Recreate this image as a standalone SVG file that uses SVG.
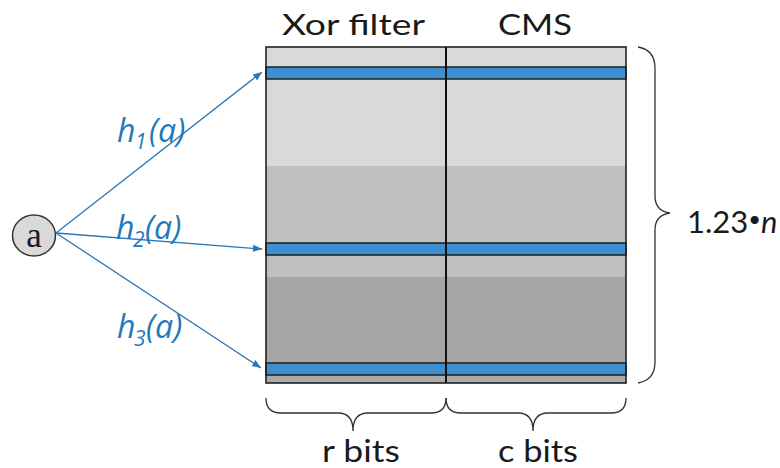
<svg xmlns="http://www.w3.org/2000/svg" width="780" height="468" viewBox="0 0 780 468">
<style>
.lbl{font-family:"Open Sans","DejaVu Sans",sans-serif;font-style:italic;fill:#1f79bd;font-size:32px}
.sub{font-size:21px}
.hdr{font-family:"Lato","Open Sans","Liberation Sans",sans-serif;fill:#1a1a1a;font-size:28px}
.dim{font-family:"Lato","Open Sans","Liberation Sans",sans-serif;fill:#1a1a1a;font-size:31px}
.edge{stroke:#2a76b6;stroke-width:1.3;fill:none}
.band{fill:#3d8fd1;stroke:#1c1c1c;stroke-width:1.5}
.brace{fill:none;stroke:#333;stroke-width:1.3}
</style>
<defs>
<marker id="ah" viewBox="0 0 10 10" refX="10" refY="5" markerWidth="9" markerHeight="9" markerUnits="userSpaceOnUse" orient="auto">
<path d="M0,1 L10,5 L0,9 Z" fill="#2a76b6"/>
</marker>
</defs>
<rect width="780" height="468" fill="#ffffff"/>

<g id="table">
<rect x="266" y="47" width="360" height="119" fill="#d9d9d9"/>
<rect x="266" y="166" width="360" height="111" fill="#bfbfbf"/>
<rect x="266" y="277" width="360" height="106" fill="#a6a6a6"/>
<rect x="266" y="375" width="360" height="8" fill="#ababab"/>
<rect class="band" x="266" y="67" width="360" height="12"/>
<rect class="band" x="266" y="243" width="360" height="12"/>
<rect class="band" x="266" y="363" width="360" height="12"/>
<rect x="266" y="47" width="360" height="336" fill="none" stroke="#222" stroke-width="1.6"/>
<line x1="446" y1="47" x2="446" y2="383" stroke="#111" stroke-width="2"/>
</g>

<g id="headers">
<text class="hdr" x="282" y="35" textLength="143" lengthAdjust="spacingAndGlyphs">Xor filter</text>
<text class="hdr" x="498" y="35" textLength="74" lengthAdjust="spacingAndGlyphs">CMS</text>
</g>

<g id="node-a">
<ellipse cx="34" cy="235.5" rx="21.5" ry="20.5" fill="#d9d9d9" stroke="#333" stroke-width="1.5"/>
<text x="34" y="246.5" text-anchor="middle" font-family="Liberation Serif,serif" font-size="35" fill="#1a1a1a">a</text>
</g>

<g id="connectors">
<line class="edge" x1="56" y1="233" x2="262" y2="72" marker-end="url(#ah)"/>
<line class="edge" x1="56" y1="233" x2="262" y2="249" marker-end="url(#ah)"/>
<line class="edge" x1="56" y1="233" x2="261" y2="368" marker-end="url(#ah)"/>
</g>

<g id="labels">
<text class="lbl" x="117" y="142">h<tspan class="sub" x="135" y="149">1</tspan><tspan x="149" y="142">(a)</tspan></text>
<text class="lbl" x="116" y="239">h<tspan class="sub" x="133" y="247">2</tspan><tspan x="145" y="239">(a)</tspan></text>
<text class="lbl" x="117" y="338">h<tspan class="sub" x="134" y="346">3</tspan><tspan x="146" y="338">(a)</tspan></text>
</g>

<g id="braces">
<path class="brace" d="M266,398 Q266,413 281,413 L338,413 Q353,413 353,431 Q353,413 368,413 L431,413 Q446,413 446,398"/>
<path class="brace" d="M446,398 Q446,413 461,413 L518,413 Q533,413 533,431 Q533,413 548,413 L611,413 Q626,413 626,398"/>
<path class="brace" d="M638,47 Q655,50 655,68 L655,196 Q655,211 670,213 Q655,215 655,230 L655,362 Q655,380 638,383"/>
</g>

<g id="dims">
<text class="dim" x="322" y="462" textLength="78" lengthAdjust="spacingAndGlyphs">r bits</text>
<text class="dim" x="498" y="462" textLength="80" lengthAdjust="spacingAndGlyphs">c bits</text>
<text class="dim" x="687" y="233" font-size="34">1.23<tspan font-size="22" dy="-6">•</tspan><tspan font-style="italic" dy="6">n</tspan></text>
</g>
</svg>
